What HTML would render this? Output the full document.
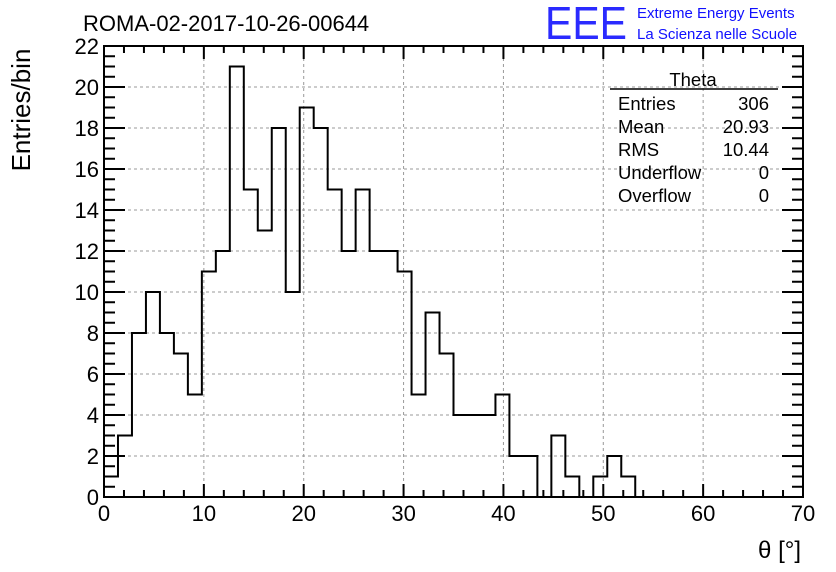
<!DOCTYPE html>
<html><head><meta charset="utf-8"><style>
body{margin:0;background:#fff;}
svg{display:block;font-family:"Liberation Sans",sans-serif;}
</style></head><body>
<svg id="c" width="836" height="572">
<rect width="836" height="572" fill="#fff"/>
<text x="83" y="31" font-size="22">ROMA-02-2017-10-26-00644</text>
<text x="545" y="39" font-size="46" fill="#2a2aff" textLength="82" lengthAdjust="spacingAndGlyphs">EEE</text>
<text x="637" y="18" font-size="15" fill="#1010ff">Extreme Energy Events</text>
<text x="637" y="39" font-size="15" fill="#1010ff">La Scienza nelle Scuole</text>
<g id="grid"></g><g id="ticks"></g>
<path id="hist" fill="none" stroke="#000" stroke-width="2"/>
<rect x="104" y="46" width="699" height="451" fill="none" stroke="#000" stroke-width="2"/>
<g id="labels"></g>
<text x="30" y="110" font-size="26" transform="rotate(-90 30 110)" text-anchor="middle">Entries/bin</text>
<text x="801" y="558" font-size="24" text-anchor="end">θ [°]</text>
<g font-size="18.5">
<line x1="610" y1="89" x2="778" y2="89" stroke="#000" stroke-width="1.5"/>
<text x="693" y="86" text-anchor="middle">Theta</text>
<text x="618" y="110">Entries</text><text x="769" y="110" text-anchor="end">306</text>
<text x="618" y="133">Mean</text><text x="769" y="133" text-anchor="end">20.93</text>
<text x="618" y="156">RMS</text><text x="769" y="156" text-anchor="end">10.44</text>
<text x="618" y="179">Underflow</text><text x="769" y="179" text-anchor="end">0</text>
<text x="618" y="202">Overflow</text><text x="769" y="202" text-anchor="end">0</text>
</g>
</svg>
<script>
const counts=[1,3,8,10,8,7,5,11,12,21,15,13,18,10,19,18,15,12,15,12,12,11,5,9,7,4,4,4,5,2,2,0,3,1,0,1,2,1,0,0,0,0,0,0,0,0,0,0,0,0];
const binWidth=1.4;
const xTicks=[0,10,20,30,40,50,60,70];
const yTicks=[0,2,4,6,8,10,12,14,16,18,20,22];
const X=v=>104+v*(699/70), Y=v=>497-v*(451/22);
const NS="http://www.w3.org/2000/svg";
function mk(t,a,p){const e=document.createElementNS(NS,t);for(const k in a)e.setAttribute(k,a[k]);p.appendChild(e);return e;}
let d=`M${X(0)},${Y(0)}`;
counts.forEach((c,i)=>{d+=` L${X(i*binWidth)},${Y(c)} L${X((i+1)*binWidth)},${Y(c)}`;});
d+=` L${X(counts.length*binWidth)},${Y(0)}`;
document.getElementById('hist').setAttribute('d',d);
const g=document.getElementById('grid'),tk=document.getElementById('ticks'),lb=document.getElementById('labels');
xTicks.forEach(v=>{
 if(v>0&&v<70){const l=mk('line',{x1:X(v),x2:X(v),y1:46,y2:497,stroke:'#999','stroke-dasharray':'3,3'},g);
 
 }
 const t=mk('text',{x:X(v),y:521,'font-size':22,'text-anchor':'middle'},lb);t.textContent=v;
 
 
});
yTicks.forEach(v=>{
 if(v>0&&v<22){const l=mk('line',{x1:104,x2:803,y1:Y(v),y2:Y(v),stroke:'#999','stroke-dasharray':'3,3'},g);
 
 }
 const t=mk('text',{x:99,y:Y(v)+8,'font-size':22,'text-anchor':'end'},lb);t.textContent=v;
 
 
});
for(let v=0;v<=70;v+=2){const L=v%10==0?13:7;
 mk('line',{x1:X(v),x2:X(v),y1:497,y2:497-L,stroke:'#000','stroke-width':2},tk);
 mk('line',{x1:X(v),x2:X(v),y1:46,y2:46+L,stroke:'#000','stroke-width':2},tk);}
for(let v=0;v<=22;v+=0.5){const L=v%2==0?21:11;
 mk('line',{x1:104,x2:104+L,y1:Y(v),y2:Y(v),stroke:'#000','stroke-width':2},tk);
 mk('line',{x1:803,x2:803-L,y1:Y(v),y2:Y(v),stroke:'#000','stroke-width':2},tk);}
</script>
</body></html>
